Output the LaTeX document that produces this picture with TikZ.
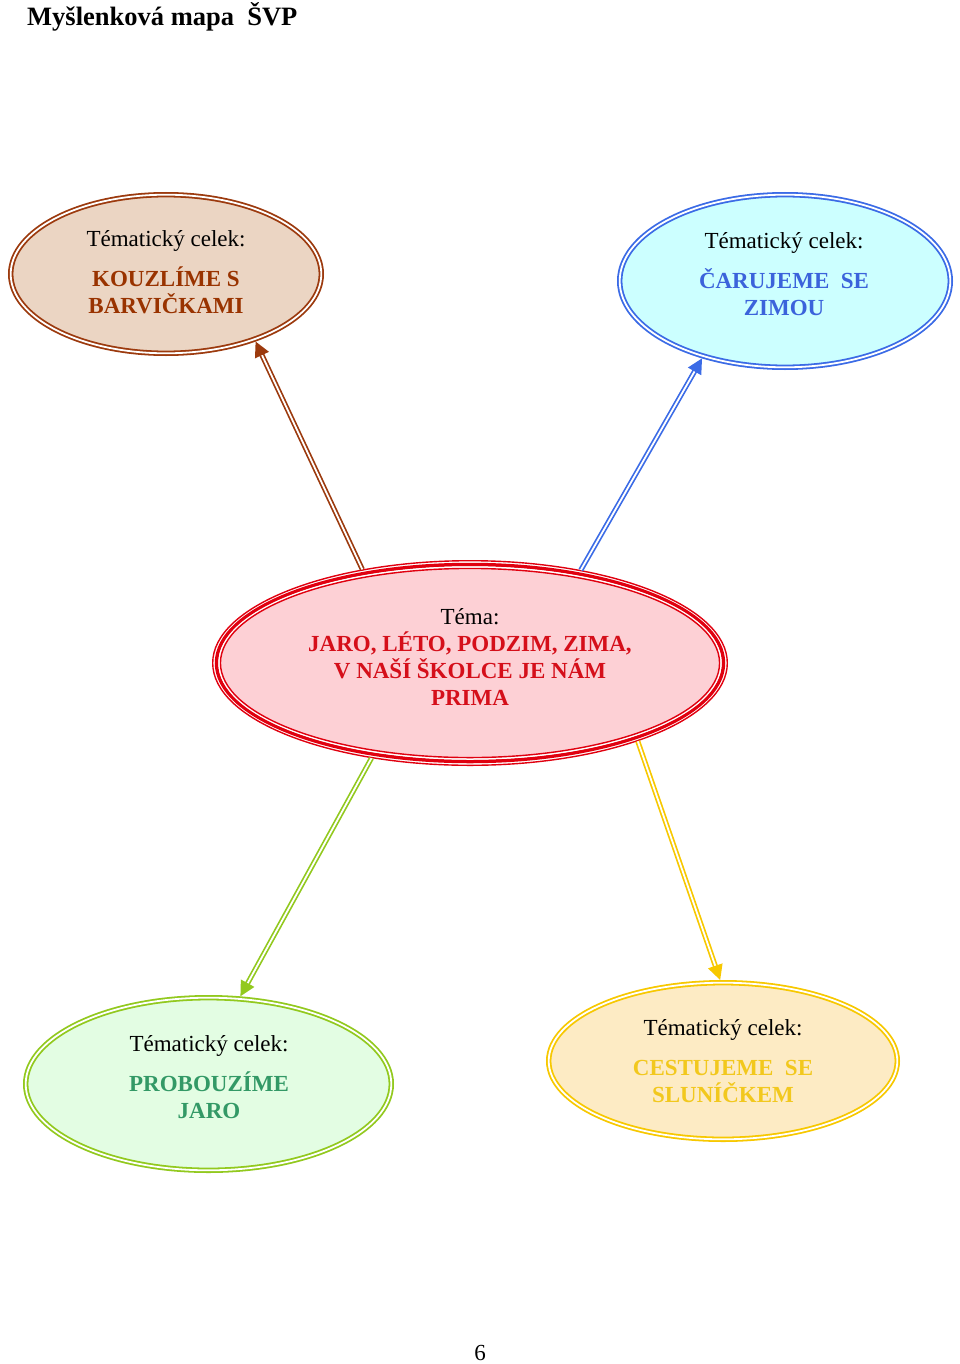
\documentclass[tikz,border=0pt]{standalone}
\usepackage{fontspec}
\setmainfont{Liberation Serif}
\usetikzlibrary{shapes.geometric,arrows.meta}
\definecolor{brLine}{HTML}{9C3A0E}
\definecolor{brFill}{HTML}{EBD5C3}
\definecolor{brText}{HTML}{993300}
\definecolor{blLine}{HTML}{3B6BE6}
\definecolor{blFill}{HTML}{CCFFFF}
\definecolor{blText}{HTML}{3B63DB}
\definecolor{rdLine}{HTML}{E0000F}
\definecolor{rdFill}{HTML}{FDD0D5}
\definecolor{rdText}{HTML}{D50F1A}
\definecolor{grLine}{HTML}{92C91E}
\definecolor{grFill}{HTML}{E3FDE3}
\definecolor{grText}{HTML}{339966}
\definecolor{yeLine}{HTML}{F7C800}
\definecolor{yeFill}{HTML}{FDEBC4}
\definecolor{yeText}{HTML}{F2C81D}
\begin{document}
\begin{tikzpicture}[x=1pt,y=-1pt,
  bubble/.style={ellipse, inner sep=0pt, double=white, double distance=1.8pt, line width=1.8pt, outer sep=2.7pt},
  lbl/.style={align=center, inner sep=0pt, font=\fontsize{23}{27}\selectfont},
  conn/.style={line width=1.7pt, double=white, double distance=1.8pt, -{Triangle[length=15pt,width=15pt]}}]
\useasboundingbox (0,0) rectangle (960,1364);
\node[anchor=west, inner sep=0pt, font=\fontsize{26.5}{30}\selectfont\bfseries] (title) at (27,17) {Myšlenková mapa~~ŠVP};
% bubbles
\node[bubble, draw=brLine, fill=brFill, minimum width=310.6pt, minimum height=158.6pt] (brown) at (166,274) {};
\node[bubble, draw=blLine, fill=blFill, minimum width=330.6pt, minimum height=172.6pt] (blue) at (785,281) {};
\node[bubble, draw=grLine, fill=grFill, minimum width=365.6pt, minimum height=172.6pt] (green) at (208.5,1084) {};
\node[bubble, draw=yeLine, fill=yeFill, minimum width=348.6pt, minimum height=156.6pt] (yellow) at (723,1061) {};
\node[ellipse, inner sep=0pt, outer sep=4.5pt, draw=rdLine, line width=3.5pt, fill=rdFill, minimum width=507pt, minimum height=197pt] (red) at (470,663) {};
\draw[rdLine, line width=1.4pt] (red.center) ellipse [x radius=257.3pt, y radius=102.3pt];
\draw[white, line width=1.5pt] (red.center) ellipse [x radius=251pt, y radius=96pt];
\draw[rdLine, line width=1.4pt] (red.center) ellipse [x radius=249.55pt, y radius=94.55pt];
% texts
\node[lbl] (tBrown) at (166,272) {Tématický celek:\\[13pt]\textcolor{brText}{\bfseries KOUZLÍME S}\\\textcolor{brText}{\bfseries BARVIČKAMI}};
\node[lbl] (tBlue) at (784,274) {Tématický celek:\\[13pt]\textcolor{blText}{\bfseries ČARUJEME~~SE}\\\textcolor{blText}{\bfseries ZIMOU}};
\node[lbl, font=\fontsize{23}{26.7}\selectfont] (tRed) at (470,657) {Téma:\\\textcolor{rdText}{\bfseries JARO, LÉTO, PODZIM, ZIMA,}\\\textcolor{rdText}{\bfseries V NAŠÍ ŠKOLCE JE NÁM}\\\textcolor{rdText}{\bfseries PRIMA}};
\node[lbl] (tGreen) at (209,1077) {Tématický celek:\\[13pt]\textcolor{grText}{\bfseries PROBOUZÍME}\\\textcolor{grText}{\bfseries JARO}};
\node[lbl] (tYellow) at (723,1061) {Tématický celek:\\[13pt]\textcolor{yeText}{\bfseries CESTUJEME~~SE}\\\textcolor{yeText}{\bfseries SLUNÍČKEM}};
% connectors
\draw[conn, brLine] (red.139.1) -- (brown.-37.1);
\draw[conn, blLine] (red.40.4) -- (blue.223.9);
\draw[conn, grLine] (red.224.1) -- (green.70.8);
\draw[conn, yeLine] (red.-25.2) -- (yellow.92.1);
\node[inner sep=0pt, font=\fontsize{23}{26}\selectfont] (page) at (480,1353) {6};
\end{tikzpicture}
\end{document}
